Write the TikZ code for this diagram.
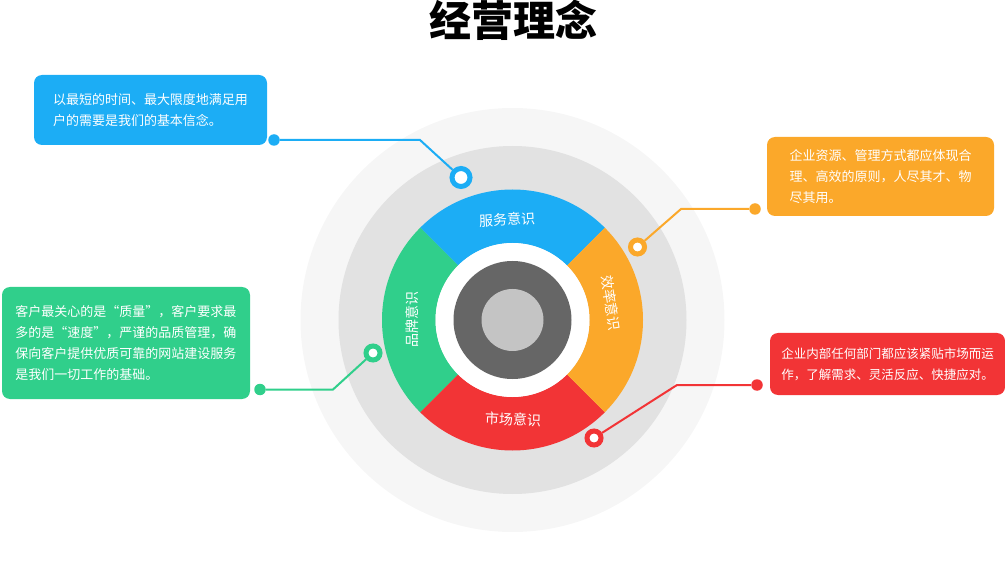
\documentclass[tikz,border=0pt]{standalone}
\usepackage{fontspec}
\newfontfamily\cjk{Noto Sans CJK SC}
\definecolor{cblue}{HTML}{1CADF5}
\definecolor{corange}{HTML}{FBA82A}
\definecolor{cgreen}{HTML}{30CF8B}
\definecolor{cred}{HTML}{F23436}
\definecolor{bgouter}{HTML}{F6F6F6}
\definecolor{bgmid}{HTML}{E2E2E2}
\definecolor{hubdark}{HTML}{666666}
\definecolor{hublight}{HTML}{C4C4C4}
\tikzset{
  infobox/.style={rectangle, rounded corners=8pt, fill=#1, text=white,
    align=left, inner sep=0pt, font=\cjk\fontsize{13}{21}\selectfont},
  ringlabel/.style={text=white, inner sep=0pt, font=\cjk\fontsize{14}{14}\selectfont},
  enddot/.style={circle, fill=#1, inner sep=0pt, minimum size=11.5pt},
  ringdot/.style={circle, fill=white, draw=#1, line width=5pt, inner sep=0pt, minimum size=14pt},
  link/.style={draw=#1, line width=2pt}
}
\begin{document}
\begin{tikzpicture}[x=1pt, y=1pt]
\useasboundingbox (0,0) rectangle (1005,-572);

% title
\node[anchor=base, inner sep=0pt, font=\cjk\bfseries\fontsize{42}{42}\selectfont] (title) at (513,-37) {经营理念};

% background discs
\coordinate (c) at (512.5,-320);
\fill[bgouter] (c) circle[radius=212];
\fill[bgmid] (c) circle[radius=174];

% coloured ring, four quarters
\begin{scope}[shift={(c)}]
  \fill[cblue]   (45:130.5) arc[start angle=45, end angle=135, radius=130.5]
                 -- (135:77) arc[start angle=135, end angle=45, radius=77] -- cycle;
  \fill[cgreen]  (135:130.5) arc[start angle=135, end angle=225, radius=130.5]
                 -- (225:77) arc[start angle=225, end angle=135, radius=77] -- cycle;
  \fill[cred]    (225:130.5) arc[start angle=225, end angle=315, radius=130.5]
                 -- (315:77) arc[start angle=315, end angle=225, radius=77] -- cycle;
  \fill[corange] (-45:130.5) arc[start angle=-45, end angle=45, radius=130.5]
                 -- (45:77) arc[start angle=45, end angle=-45, radius=77] -- cycle;
  \fill[white] (0,0) circle[radius=77];
  \fill[hubdark] (0,0) circle[radius=59];
  \fill[hublight] (0,0) circle[radius=31];
\end{scope}

% ring labels
\node[ringlabel, rotate=3]   (lserv)  at (507,-219.5) {服务意识};
\node[ringlabel, rotate=-81] (leff)   at (611,-303)   {效率意识};
\node[ringlabel, rotate=90]  (lbrand) at (412,-320)   {品牌意识};
\node[ringlabel, rotate=-2]  (lmkt)   at (513,-419.5) {市场意识};

% connector corners
\coordinate (kb) at (420,-140);
\coordinate (ko) at (681,-209);
\coordinate (kg) at (333,-389.5);
\coordinate (kr) at (677,-385);

% dots
\node[enddot=cblue]   (eb) at (274,-140) {};
\node[enddot=corange] (eo) at (755,-209) {};
\node[enddot=cgreen]  (eg) at (260,-389.5) {};
\node[enddot=cred]    (er) at (757,-385) {};
\node[ringdot=cblue, minimum size=18pt] (rb) at (461,-177.5) {};
\node[ringdot=corange] (ro) at (637.5,-247) {};
\node[ringdot=cgreen]  (rg) at (373,-353) {};
\node[ringdot=cred]    (rr) at (594,-438) {};

% connectors
\draw[link=cblue]   (eb) -- (kb) -- (rb);
\draw[link=corange] (eo) -- (ko) -- (ro);
\draw[link=cgreen]  (eg) -- (kg) -- (rg);
\draw[link=cred]    (er) -- (kr) -- (rr);

% text boxes
\node[infobox=cblue, minimum width=233pt, minimum height=70pt] (tb) at (150.5,-110)
  {以最短的时间、最大限度地满足用\\户的需要是我们的基本信念。};
\node[infobox=corange, minimum width=227pt, minimum height=79pt] (to) at (880.5,-176.5)
  {企业资源、管理方式都应体现合\\理、高效的原则，人尽其才、物\\尽其用。};
\node[infobox=cgreen, minimum width=248pt, minimum height=112pt] (tg) at (126,-343)
  {客户最关心的是“质量”，客户要求最\\多的是“速度”，严谨的品质管理，确\\保向客户提供优质可靠的网站建设服务\\是我们一切工作的基础。};
\node[infobox=cred, minimum width=235pt, minimum height=62pt, font=\cjk\fontsize{12.5}{21}\selectfont] (tr) at (887.5,-364)
  {企业内部任何部门都应该紧贴市场而运\\作，了解需求、灵活反应、快捷应对。};
\end{tikzpicture}
\end{document}
